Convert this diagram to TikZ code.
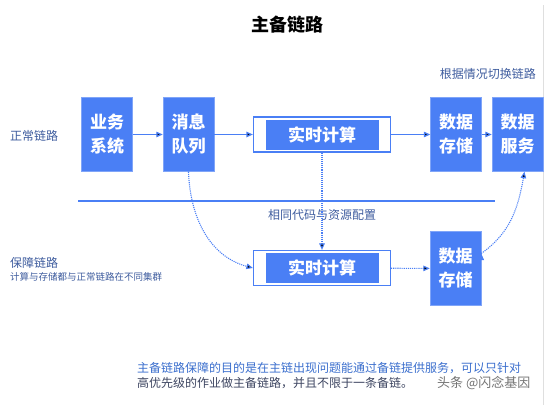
\documentclass[tikz,border=0pt]{standalone}
\usepackage{fontspec}
\setmainfont{Noto Sans CJK SC}
\usetikzlibrary{arrows.meta,positioning}
\definecolor{boxblue}{RGB}{74,127,245}
\definecolor{labelblue}{RGB}{62,92,158}
\definecolor{noteblue}{RGB}{58,110,205}
\definecolor{notedark}{RGB}{60,68,96}

\begin{document}
\begin{tikzpicture}[x=1pt, y=-1pt, >={Triangle[length=6.5pt,width=5.5pt]},%
	box/.style={rectangle, fill=boxblue, draw=boxblue!70!white, text=white, align=center,
		minimum width=51pt, minimum height=74pt, inner sep=0pt,
		font=\bfseries\fontsize{17}{24}\selectfont},
	calcout/.style={rectangle, fill=white, draw=boxblue, line width=1.2pt,
		minimum width=137pt, minimum height=35pt, inner sep=0pt},
	calcin/.style={rectangle, fill=boxblue, text=white, minimum width=113pt,
		minimum height=30pt, inner sep=0pt, font=\bfseries\fontsize{17}{20}\selectfont},
	lbl/.style={text=labelblue, inner sep=0pt, font=\fontsize{12}{14}\selectfont},
	flow/.style={draw=boxblue, line width=1.2pt, ->},
	spare/.style={draw=boxblue, line width=1.1pt, densely dotted, ->}]
	\useasboundingbox (0,0) rectangle (550,405);
	\draw[gray!25, line width=1pt] (543,5) -- (543,405);

	\node (title) at (287,25) [font=\bfseries\fontsize{18}{20}\selectfont] {主备链路};

	\node (biz) at (107,134.5) [box] {业务\\系统};
	\node (mq) at (188.5,134.5) [box] {消息\\队列};
	\node (calc) at (322,134.5) [calcout] {};
	\node (calcA) at (calc) [calcin] {实时计算};
	\node (store) at (456,134.5) [box] {数据\\存储};
	\node (serve) at (517.5,134.5) [box] {数据\\服务};

	\node (calc2) at (322,268) [calcout] {};
	\node (calcB) at (calc2) [calcin] {实时计算};
	\node (store2) at (455.5,268.5) [box] {数据\\存储};

	\coordinate (sepL) at (78,201);
	\coordinate (sepR) at (495,201);
	\draw[boxblue, line width=1.2pt] (sepL) -- (sepR);

	\node (switch) at (536,74) [lbl, anchor=east] {根据情况切换链路};
	\node (normal) at (10,136) [lbl, anchor=west] {正常链路};
	\node (same) at (322,215) [lbl] {相同代码与资源配置};
	\node (backup) at (10,263) [lbl, anchor=west] {保障链路};
	\node (backnote) [below=8pt of backup.south west, anchor=west, lbl,
		font=\fontsize{9.5}{11}\selectfont] {计算与存储都与正常链路在不同集群};

	\node (note1) at (137,368) [anchor=west, inner sep=0pt, text=noteblue,
		font=\fontsize{12}{14}\selectfont] {主备链路保障的目的是在主链出现问题能通过备链提供服务，可以只针对};
	\node (note2) at (137,383) [anchor=west, inner sep=0pt, text=notedark,
		font=\fontsize{12}{14}\selectfont] {高优先级的作业做主备链路，并且不限于一条备链。};
	\node (mark) at (437,383) [anchor=west, inner sep=0pt, text=black!55,
		font=\fontsize{13}{14}\selectfont] {头条 @闪念基因};

	\path[flow]
	(biz) edge (mq)
	(mq) edge (calc)
	(calc) edge (store)
	(store) edge (serve);

	\path[spare]
	(calc.south) edge (calc2.north)
	(mq.south) edge[out=-88, in=165] (calc2.west)
	(calc2) edge (store2)
	([yshift=15pt]store2.east) edge[out=35, in=-100] ([xshift=7pt]serve.south);
\end{tikzpicture}
\end{document}
